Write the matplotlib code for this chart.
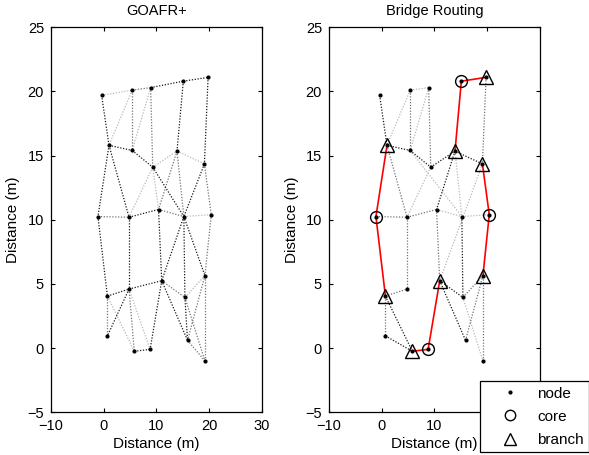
import matplotlib
matplotlib.use('Agg')
import matplotlib.pyplot as plt
from matplotlib.lines import Line2D

plt.rcParams['font.family'] = ['Liberation Sans', 'DejaVu Sans']
plt.rcParams['font.size'] = 10

# node coordinates (m)
node_x = [-0.4, 5.4, 8.9, 15.1, 19.8,
          1.0, 5.4, 9.3, 13.9, 19.1,
          -1.1, 4.8, 10.4, 15.2, 20.4,
          0.7, 4.8, 11.0, 15.4, 19.2,
          0.7, 5.8, 8.8, 15.9, 19.2]
node_y = [19.7, 20.1, 20.3, 20.8, 21.1,
          15.8, 15.4, 14.1, 15.35, 14.35,
          10.25, 10.2, 10.8, 10.25, 10.4,
          4.05, 4.6, 5.25, 3.95, 5.65,
          0.95, -0.25, -0.1, 0.6, -1.0]

# links of the left plot (1-based node numbers), grouped by shade
goafr_dark = [(1, 6), (3, 4), (4, 5), (4, 9), (5, 10), (6, 7), (6, 11), (6, 12),
              (7, 8), (8, 14), (10, 14), (12, 13), (11, 16), (12, 17), (13, 18),
              (14, 19), (14, 18), (14, 20), (16, 17), (17, 18), (18, 23),
              (18, 24), (22, 23), (17, 21), (19, 24)]
goafr_mid = [(2, 3), (2, 7), (3, 8), (9, 14), (9, 13), (10, 15), (11, 12),
             (13, 14), (18, 19), (20, 25), (19, 25), (20, 24), (16, 21),
             (17, 22), (15, 20), (24, 25)]
goafr_light = [(1, 2), (2, 6), (3, 7), (8, 9), (9, 10), (8, 12), (14, 15),
               (16, 22), (17, 23), (19, 20), (8, 13)]

# links of the right plot
bridge_dark = [(1, 6), (6, 7), (7, 8), (8, 9), (9, 10), (9, 13), (14, 19),
               (16, 22), (21, 22), (18, 19), (18, 24)]
bridge_mid = [(2, 7), (3, 8), (5, 10), (6, 12), (13, 18), (12, 17), (11, 12),
              (12, 13), (16, 17), (16, 21), (20, 25), (19, 20), (20, 24)]
bridge_light = [(2, 6), (3, 7), (7, 14), (8, 12), (9, 14), (10, 18), (13, 14),
                (14, 15), (19, 25), (2, 3)]

core_nodes = [11, 15, 4, 23]
branch_nodes = [6, 5, 9, 10, 16, 22, 18, 20]
red_paths = [[16, 11, 6], [22, 23, 18], [9, 4, 5], [20, 15, 10]]

shades = {'dark': '0.1', 'mid': '0.45', 'light': '0.72'}
dots = (0, (1, 1.3))


def draw_links(ax, groups):
    for shade, links in groups:
        for a, b in links:
            ax.plot([node_x[a - 1], node_x[b - 1]], [node_y[a - 1], node_y[b - 1]],
                    color=shades[shade], linestyle=dots, linewidth=0.9, zorder=1)


def style_axes(ax, title):
    ax.set_xlim(-10, 30)
    ax.set_ylim(-5, 25)
    ax.set_xticks([-10, 0, 10, 20, 30])
    ax.set_yticks([-5, 0, 5, 10, 15, 20, 25])
    ax.tick_params(direction='in', top=True, right=True, length=3, width=0.8,
                   labelsize=10.5, pad=5)
    ax.set_xlabel('Distance (m)', fontsize=11, labelpad=3)
    ax.set_ylabel('Distance (m)', fontsize=11, labelpad=5)
    ax.set_title(title, fontsize=10.5, pad=9)
    for s in ax.spines.values():
        s.set_linewidth(0.9)


fig = plt.figure(figsize=(5.89, 4.55), dpi=100)
ax1 = fig.add_axes([0.0866, 0.094, 0.358, 0.846])
ax2 = fig.add_axes([0.5586, 0.094, 0.358, 0.846])

# GOAFR+
draw_links(ax1, [('light', goafr_light), ('mid', goafr_mid), ('dark', goafr_dark)])
ax1.plot(node_x, node_y, '.', color='k', markersize=4, zorder=3)
style_axes(ax1, 'GOAFR+')

# Bridge Routing
draw_links(ax2, [('light', bridge_light), ('mid', bridge_mid), ('dark', bridge_dark)])
for path in red_paths:
    ax2.plot([node_x[i - 1] for i in path], [node_y[i - 1] for i in path],
             color='red', linewidth=1.2, zorder=2)
ax2.plot(node_x, node_y, '.', color='k', markersize=4, zorder=3)
ax2.plot([node_x[i - 1] for i in core_nodes], [node_y[i - 1] for i in core_nodes],
         'o', markersize=8.5, markerfacecolor='none', markeredgecolor='k',
         markeredgewidth=1.0, zorder=4)
ax2.plot([node_x[i - 1] for i in branch_nodes], [node_y[i - 1] for i in branch_nodes],
         '^', markersize=9.5, markerfacecolor='none', markeredgecolor='k',
         markeredgewidth=1.0, zorder=4)
style_axes(ax2, 'Bridge Routing')

handles = [
    Line2D([], [], linestyle='none', marker='.', color='k', markersize=4),
    Line2D([], [], linestyle='none', marker='o', markerfacecolor='none',
           markeredgecolor='k', markersize=7.5),
    Line2D([], [], linestyle='none', marker='^', markerfacecolor='none',
           markeredgecolor='k', markersize=8.5),
]
leg = fig.legend(handles, ['node', 'core', 'branch'], loc='lower left',
                 bbox_to_anchor=(0.815, 0.006), bbox_transform=fig.transFigure,
                 frameon=True, fancybox=False, edgecolor='k', framealpha=1,
                 borderpad=0.35, labelspacing=0.6, handlelength=3.2,
                 handletextpad=0.2, borderaxespad=0, fontsize=11)
leg.get_frame().set_linewidth(0.9)

fig.savefig('out.png', dpi=100)
plt.close(fig)
